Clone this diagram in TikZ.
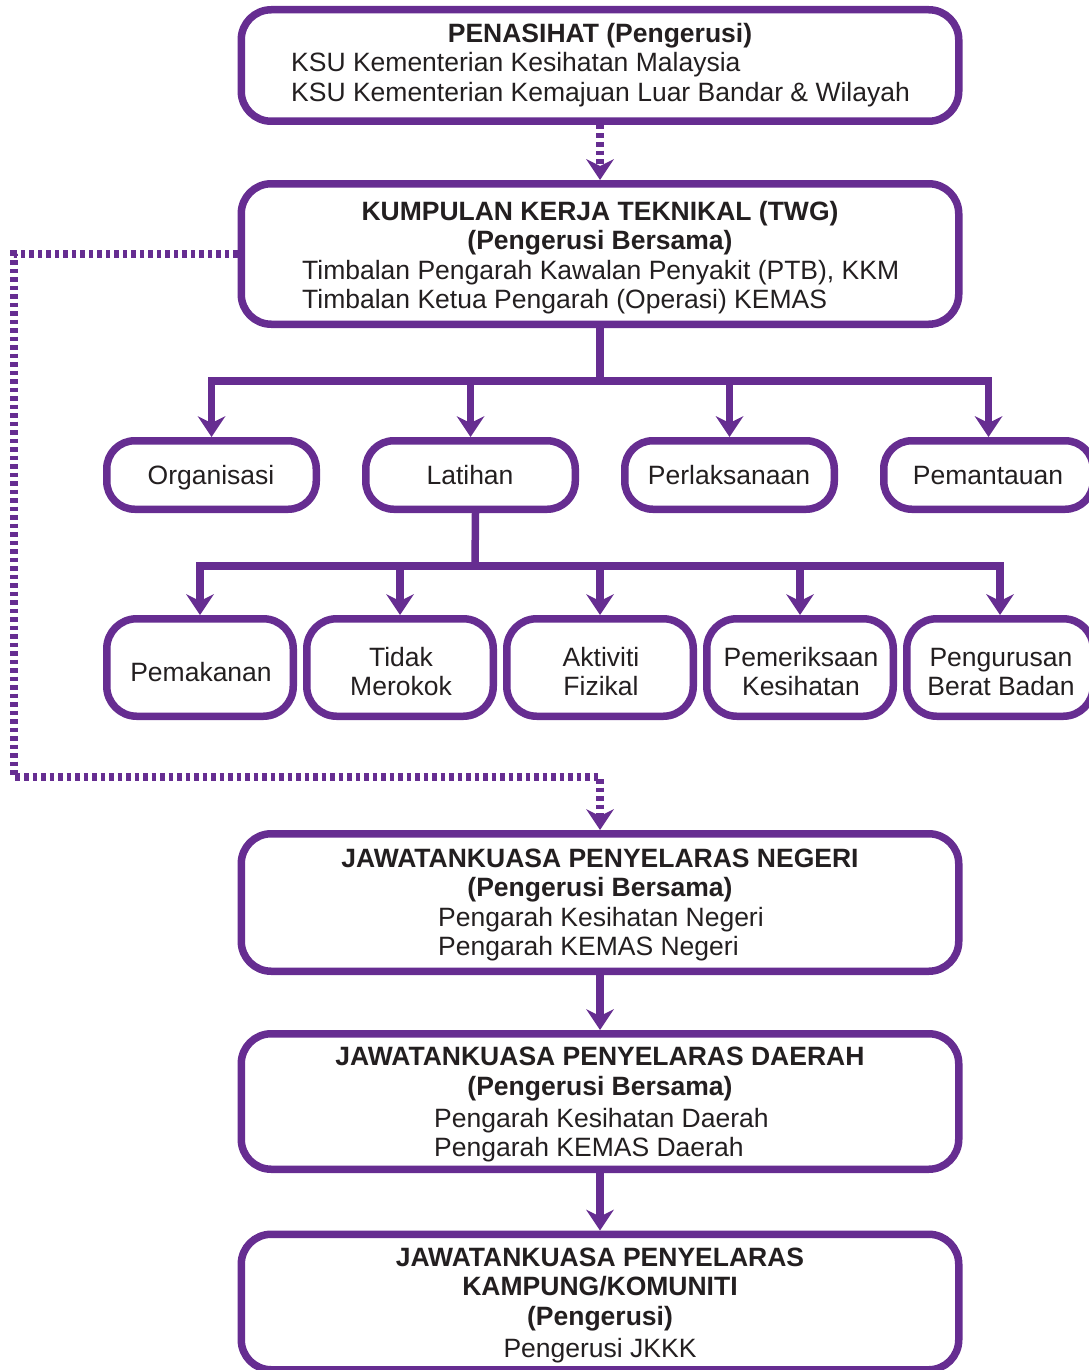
\documentclass[tikz,border=0pt]{standalone}
\usepackage{fontspec}
\setmainfont{Liberation Sans}
\usetikzlibrary{arrows.meta}
\definecolor{pur}{HTML}{662D91}
\definecolor{ink}{HTML}{231F20}
\tikzset{
  box/.style={draw=pur, line width=7.5pt, rounded corners=30pt, rectangle, inner sep=0pt, fill=white},
  bigbox/.style={box, minimum width=717.5pt, minimum height=#1},
  rowbox/.style={box, rounded corners=28pt, minimum width=209.5pt, minimum height=68.5pt},
  subbox/.style={box, rounded corners=30pt, minimum width=186.5pt, minimum height=97.5pt},
  txt/.style={inner sep=0pt, text=ink, font=\fontsize{26.5}{29.5}\selectfont},
  tip/.style={-{Stealth[length=21pt, width=28pt, inset=7pt, line width=0pt]}},
  conn/.style={draw=pur, line width=7.5pt},
  arr/.style={conn, tip},
  dotc/.style={draw=pur, line width=7.5pt, dash pattern=on 4.5pt off 4pt},
}
\begin{document}
\begin{tikzpicture}[x=1pt, y=-1pt]
\useasboundingbox (0,0) rectangle (1089,1370);
\clip (0,0) rectangle (1089,1370);
% big boxes
\node[bigbox=111.5pt] (pen) at (600,65.5) {};
\node[bigbox=140.5pt] (twg) at (600,254) {};
\node[bigbox=137.5pt] (jpn) at (600,902.5) {};
\node[bigbox=135.5pt] (jpd) at (600,1101.5) {};
\node[bigbox=135.5pt] (jkk) at (600,1302) {};
% row 1
\node[rowbox] (org) at (211.5,475) {};
\node[rowbox] (lat) at (470.5,475) {};
\node[rowbox] (per) at (729.5,475) {};
\node[rowbox] (pem) at (988.5,475) {};
% row 2
\node[subbox] (mak) at (200,667.5) {};
\node[subbox] (tid) at (400,667.5) {};
\node[subbox] (akt) at (600,667.5) {};
\node[subbox] (pek) at (800,667.5) {};
\node[subbox] (beb) at (1000,667.5) {};
% texts: Penasihat
\node[txt, anchor=base] (pen1) at (600,43) {\bfseries PENASIHAT (Pengerusi)};
\node[txt, anchor=base west] (pen2) at (291,72) {KSU Kementerian Kesihatan Malaysia};
\node[txt, anchor=base west] (pen3) at (291,102) {KSU Kementerian Kemajuan Luar Bandar \& Wilayah};
% TWG
\node[txt, anchor=base] (twg1) at (600,220) {\bfseries KUMPULAN KERJA TEKNIKAL (TWG)};
\node[txt, anchor=base] (twg2) at (600,249) {\bfseries (Pengerusi Bersama)};
\node[txt, anchor=base west] (twg3) at (302,279) {Timbalan Pengarah Kawalan Penyakit (PTB), KKM};
\node[txt, anchor=base west] (twg4) at (302,308) {Timbalan Ketua Pengarah (Operasi) KEMAS};
% row 1 texts
\node[txt, anchor=base] (orgt) at (211,484) {Organisasi};
\node[txt, anchor=base] (latt) at (470,484) {Latihan};
\node[txt, anchor=base] (pert) at (729,484) {Perlaksanaan};
\node[txt, anchor=base] (pemt) at (988,484) {Pemantauan};
% row 2 texts
\node[txt, anchor=base] (makt) at (201,681) {Pemakanan};
\node[txt, anchor=base] (tidt1) at (401,666) {Tidak};
\node[txt, anchor=base] (tidt2) at (401,695) {Merokok};
\node[txt, anchor=base] (aktt1) at (601,666) {Aktiviti};
\node[txt, anchor=base] (aktt2) at (601,695) {Fizikal};
\node[txt, anchor=base] (pekt1) at (801,666) {Pemeriksaan};
\node[txt, anchor=base] (pekt2) at (801,695) {Kesihatan};
\node[txt, anchor=base] (bebt1) at (1001,666) {Pengurusan};
\node[txt, anchor=base] (bebt2) at (1001,695) {Berat Badan};
% JPN
\node[txt, anchor=base] (jpn1) at (600,867) {\bfseries JAWATANKUASA PENYELARAS NEGERI};
\node[txt, anchor=base] (jpn2) at (600,896) {\bfseries (Pengerusi Bersama)};
\node[txt, anchor=base west] (jpn3) at (438,926) {Pengarah Kesihatan Negeri};
\node[txt, anchor=base west] (jpn4) at (438,955) {Pengarah KEMAS Negeri};
% JPD
\node[txt, anchor=base] (jpd1) at (600,1065) {\bfseries JAWATANKUASA PENYELARAS DAERAH};
\node[txt, anchor=base] (jpd2) at (600,1095) {\bfseries (Pengerusi Bersama)};
\node[txt, anchor=base west] (jpd3) at (434,1127) {Pengarah Kesihatan Daerah};
\node[txt, anchor=base west] (jpd4) at (434,1156) {Pengarah KEMAS Daerah};
% JKK
\node[txt, anchor=base] (jkk1) at (600,1266) {\bfseries JAWATANKUASA PENYELARAS};
\node[txt, anchor=base] (jkk2) at (600,1295) {\bfseries KAMPUNG/KOMUNITI};
\node[txt, anchor=base] (jkk3) at (600,1325) {\bfseries (Pengerusi)};
\node[txt, anchor=base] (jkk4) at (600,1357) {Pengerusi JKKK};
% connectors
\draw[dotc, tip] (pen.south) -- (twg.north);
\coordinate (bus1) at (600,381);
\draw[conn] (twg.south) -- (bus1);
\draw[arr] (bus1) -| (org.north);
\draw[arr] (bus1) -| (lat.north);
\draw[arr] (bus1) -| (per.north);
\draw[arr] (bus1) -| (pem.north);
\coordinate (lats) at ([xshift=5pt]lat.south);
\coordinate (bus2) at (475,566);
\draw[conn] (lats) -- (bus2);
\draw[arr] (bus2) -| (mak.north);
\draw[arr] (bus2) -| (tid.north);
\draw[arr] (bus2) -| (akt.north);
\draw[arr] (bus2) -| (pek.north);
\draw[arr] (bus2) -| (beb.north);
\coordinate (d1) at (14,256);
\coordinate (d2) at (600,777);
\draw[dotc, tip] (twg.west) -- (twg.west -| d1) |- (d2) -- (jpn.north);
\draw[arr] (jpn.south) -- (jpd.north);
\draw[arr] (jpd.south) -- (jkk.north);
\end{tikzpicture}
\end{document}
